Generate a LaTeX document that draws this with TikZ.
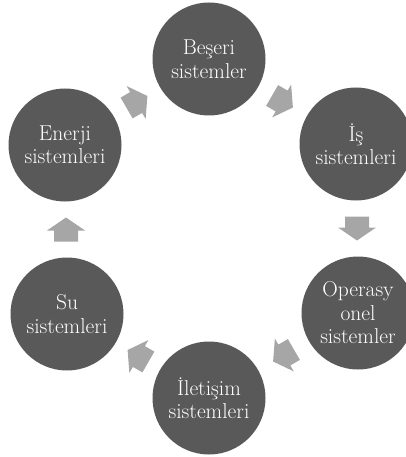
\documentclass[tikz,border=0pt]{standalone}
\usepackage{fontspec}
\usetikzlibrary{calc}
\definecolor{circgray}{HTML}{595959}
\definecolor{arrgray}{HTML}{A6A6A6}
\begin{document}
\begin{tikzpicture}[x=1pt,y=1pt,
  sys/.style={circle, fill=circgray, text=white, minimum size=113pt, inner sep=0pt,
    align=center, font=\fontsize{21.5}{23.5}\selectfont},
  blockarr/.pic={\fill[arrgray] (-12,-12) -- (-1,-12) -- (-1,-19) -- (12,0)
    -- (-1,19) -- (-1,12) -- (-12,12) -- cycle;}]
\clip (0,0) rectangle (406,-457);
\node[sys] (1) at (209,-59) {Beşeri\\sistemler};
\node[sys] (2) at (356,-144) {İş\\sistemleri};
\node[sys] (3) at (358,-313) {Operasy\\onel\\sistemler};
\node[sys] (4) at (209,-398) {İletişim\\sistemleri};
\node[sys] (5) at (67,-314) {Su\\sistemleri};
\node[sys] (6) at (65,-145) {Enerji\\sistemleri};
\pic[rotate=-30] at ($(1)!0.5!(2)$) {blockarr};
\pic[rotate=-90] at ($(2)!0.5!(3)$) {blockarr};
\pic[rotate=210] at ($(3)!0.5!(4)$) {blockarr};
\pic[rotate=150] at ($(4)!0.5!(5)$) {blockarr};
\pic[rotate=90] at ($(5)!0.5!(6)$) {blockarr};
\pic[rotate=30] at ($(6)!0.5!(1)$) {blockarr};
\end{tikzpicture}
\end{document}
